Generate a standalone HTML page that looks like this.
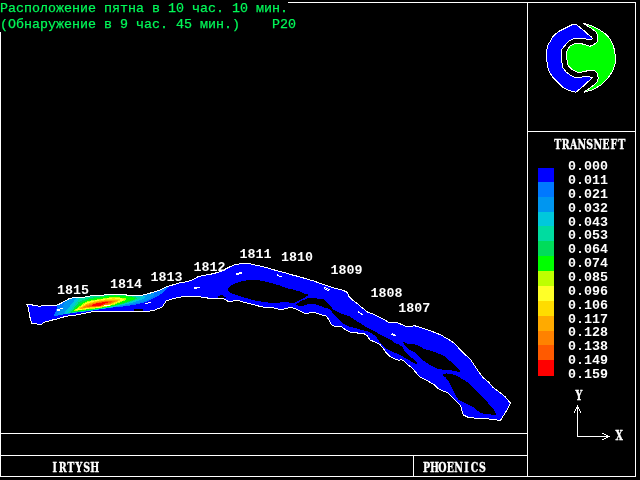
<!DOCTYPE html><html><head><meta charset="utf-8"><style>html,body{margin:0;padding:0;background:#000;width:640px;height:480px;overflow:hidden}svg{display:block}.g{font-family:"Liberation Mono","DejaVu Sans Mono",monospace;fill:#00f858;stroke:#00f858;stroke-width:0.25px;font-size:13.5px}.w{font-family:"Liberation Mono","DejaVu Sans Mono",monospace;fill:#fff;font-size:13.33px;font-weight:bold}</style></head><body>
<svg width="640" height="480" viewBox="0 0 640 480">
<rect width="640" height="480" fill="#000"/>
<rect x="288" y="2" width="348" height="1" fill="#ffffff"/>
<rect x="635" y="2" width="1" height="475" fill="#ffffff"/>
<rect x="527" y="2" width="1" height="475" fill="#ffffff"/>
<rect x="527" y="131" width="109" height="1" fill="#ffffff"/>
<rect x="0" y="32" width="1" height="445" fill="#ffffff"/>
<rect x="0" y="476" width="636" height="1" fill="#ffffff"/>
<rect x="0" y="433" width="528" height="1" fill="#ffffff"/>
<rect x="0" y="455" width="528" height="1" fill="#ffffff"/>
<rect x="413" y="455" width="1" height="22" fill="#ffffff"/>
<defs><clipPath id="rc"><polygon points="25.6,304.4 32.5,305.0 38.8,306.2 45.0,305.6 51.0,306.0 57.5,305.0 62.5,302.5 68.8,298.8 73.8,297.5 82.5,297.5 90.0,296.0 97.5,295.6 110.0,294.4 121.0,294.4 126.0,294.5 127.0,295.4 142.0,295.4 147.5,293.8 152.5,292.5 160.0,290.0 166.0,287.0 172.5,285.0 178.8,283.0 185.0,282.0 191.0,280.6 197.5,277.0 202.5,275.6 210.0,274.4 217.5,272.5 222.5,270.6 227.5,268.0 232.5,265.6 236.0,264.4 242.5,263.4 248.8,263.4 255.0,265.0 261.0,266.2 267.5,267.8 273.8,269.8 280.0,271.6 286.0,273.0 292.5,275.0 298.8,276.6 306.2,278.8 312.5,280.6 318.8,282.8 325.0,285.0 331.2,287.2 337.5,288.8 343.8,290.6 347.5,292.5 348.8,296.2 352.5,300.0 357.5,303.8 362.5,308.0 367.5,312.0 373.8,314.4 380.0,317.5 386.0,320.6 388.8,322.5 396.0,322.0 400.0,323.8 405.0,326.0 410.0,327.0 414.0,325.6 419.0,327.0 425.0,329.0 431.0,331.0 436.0,333.0 441.0,335.0 449.4,340.0 455.0,343.8 460.6,350.3 464.4,354.0 470.0,358.8 473.8,364.4 477.5,370.0 483.0,377.5 488.8,382.2 492.5,386.9 500.0,392.5 505.6,397.2 510.3,403.0 507.5,409.4 503.8,415.0 500.0,421.0 496.2,419.7 486.9,418.8 477.5,418.4 468.0,417.2 463.4,415.0 461.6,409.4 460.6,405.6 455.0,400.0 451.2,396.2 447.5,392.5 443.4,391.2 438.8,389.0 434.0,384.7 429.4,381.9 424.7,379.5 420.0,377.2 413.8,370.0 411.0,367.2 407.2,364.4 404.4,361.0 401.6,359.7 398.8,360.2 394.0,358.8 389.4,356.0 385.6,352.2 382.8,347.5 380.0,344.7 375.0,342.0 370.0,340.0 367.5,336.0 363.8,333.5 360.0,333.5 355.0,332.5 350.0,332.0 345.0,329.4 341.0,326.5 336.0,327.0 331.2,324.4 329.4,320.6 327.5,317.8 324.7,315.0 322.0,315.0 319.0,314.0 314.4,312.6 308.8,313.0 306.0,314.0 299.4,310.8 294.7,308.4 290.0,307.5 283.8,309.0 280.0,309.4 273.8,308.0 267.5,307.5 262.5,307.0 256.0,305.4 251.0,304.0 245.0,302.5 240.0,301.0 235.0,300.6 230.0,301.5 227.5,301.0 224.0,298.8 217.5,298.0 207.5,298.0 197.5,296.5 186.0,296.0 178.8,297.5 172.5,298.8 166.0,301.0 162.5,306.9 155.0,310.0 148.8,311.2 142.5,311.9 133.8,311.9 115.0,311.0 102.5,311.9 95.0,311.0 88.8,312.5 82.5,313.8 76.0,315.0 70.0,315.6 63.8,316.9 57.5,318.8 52.5,320.0 45.0,322.0 40.0,325.0 33.8,323.0 31.9,323.8 30.0,317.5 28.8,311.0 27.5,305.0"/></clipPath></defs>
<g shape-rendering="crispEdges"><polygon points="25.6,304.4 32.5,305.0 38.8,306.2 45.0,305.6 51.0,306.0 57.5,305.0 62.5,302.5 68.8,298.8 73.8,297.5 82.5,297.5 90.0,296.0 97.5,295.6 110.0,294.4 121.0,294.4 126.0,294.5 127.0,295.4 142.0,295.4 147.5,293.8 152.5,292.5 160.0,290.0 166.0,287.0 172.5,285.0 178.8,283.0 185.0,282.0 191.0,280.6 197.5,277.0 202.5,275.6 210.0,274.4 217.5,272.5 222.5,270.6 227.5,268.0 232.5,265.6 236.0,264.4 242.5,263.4 248.8,263.4 255.0,265.0 261.0,266.2 267.5,267.8 273.8,269.8 280.0,271.6 286.0,273.0 292.5,275.0 298.8,276.6 306.2,278.8 312.5,280.6 318.8,282.8 325.0,285.0 331.2,287.2 337.5,288.8 343.8,290.6 347.5,292.5 348.8,296.2 352.5,300.0 357.5,303.8 362.5,308.0 367.5,312.0 373.8,314.4 380.0,317.5 386.0,320.6 388.8,322.5 396.0,322.0 400.0,323.8 405.0,326.0 410.0,327.0 414.0,325.6 419.0,327.0 425.0,329.0 431.0,331.0 436.0,333.0 441.0,335.0 449.4,340.0 455.0,343.8 460.6,350.3 464.4,354.0 470.0,358.8 473.8,364.4 477.5,370.0 483.0,377.5 488.8,382.2 492.5,386.9 500.0,392.5 505.6,397.2 510.3,403.0 507.5,409.4 503.8,415.0 500.0,421.0 496.2,419.7 486.9,418.8 477.5,418.4 468.0,417.2 463.4,415.0 461.6,409.4 460.6,405.6 455.0,400.0 451.2,396.2 447.5,392.5 443.4,391.2 438.8,389.0 434.0,384.7 429.4,381.9 424.7,379.5 420.0,377.2 413.8,370.0 411.0,367.2 407.2,364.4 404.4,361.0 401.6,359.7 398.8,360.2 394.0,358.8 389.4,356.0 385.6,352.2 382.8,347.5 380.0,344.7 375.0,342.0 370.0,340.0 367.5,336.0 363.8,333.5 360.0,333.5 355.0,332.5 350.0,332.0 345.0,329.4 341.0,326.5 336.0,327.0 331.2,324.4 329.4,320.6 327.5,317.8 324.7,315.0 322.0,315.0 319.0,314.0 314.4,312.6 308.8,313.0 306.0,314.0 299.4,310.8 294.7,308.4 290.0,307.5 283.8,309.0 280.0,309.4 273.8,308.0 267.5,307.5 262.5,307.0 256.0,305.4 251.0,304.0 245.0,302.5 240.0,301.0 235.0,300.6 230.0,301.5 227.5,301.0 224.0,298.8 217.5,298.0 207.5,298.0 197.5,296.5 186.0,296.0 178.8,297.5 172.5,298.8 166.0,301.0 162.5,306.9 155.0,310.0 148.8,311.2 142.5,311.9 133.8,311.9 115.0,311.0 102.5,311.9 95.0,311.0 88.8,312.5 82.5,313.8 76.0,315.0 70.0,315.6 63.8,316.9 57.5,318.8 52.5,320.0 45.0,322.0 40.0,325.0 33.8,323.0 31.9,323.8 30.0,317.5 28.8,311.0 27.5,305.0" fill="#0000ff"/>
<g clip-path="url(#rc)">
<path d="M54.00,316.00 C52.92,315.57 55.00,313.50 55.50,312.00 C56.00,310.50 56.50,308.50 57.00,307.00 C57.50,305.50 57.33,305.00 58.50,303.00 C59.67,301.00 62.08,297.17 64.00,295.00 C65.92,292.83 60.67,292.00 70.00,290.00 C79.33,288.00 105.00,284.50 120.00,283.00 C135.00,281.50 152.00,280.67 160.00,281.00 C168.00,281.33 167.25,283.27 168.00,285.00 C168.75,286.73 166.67,289.28 164.50,291.40 C162.33,293.52 158.52,295.81 155.00,297.70 C151.48,299.59 147.57,301.45 143.40,302.75 C139.23,304.05 133.90,304.82 130.00,305.50 C126.10,306.18 123.00,306.45 120.00,306.80 C117.00,307.15 115.33,307.17 112.00,307.60 C108.67,308.03 104.00,308.79 100.00,309.40 C96.00,310.01 92.17,310.68 88.00,311.25 C83.83,311.82 79.33,312.24 75.00,312.80 C70.67,313.36 65.50,314.07 62.00,314.60 C58.50,315.13 55.08,316.43 54.00,316.00Z" fill="#0078ff"/>
<path d="M58.00,315.00 C57.17,314.47 59.08,312.67 60.00,311.00 C60.92,309.33 62.33,306.92 63.50,305.00 C64.67,303.08 65.58,301.33 67.00,299.50 C68.42,297.67 63.17,295.92 72.00,294.00 C80.83,292.08 107.00,288.67 120.00,288.00 C133.00,287.33 144.33,288.83 150.00,290.00 C155.67,291.17 154.67,293.25 154.00,295.00 C153.33,296.75 149.17,299.07 146.00,300.50 C142.83,301.93 138.50,302.75 135.00,303.60 C131.50,304.45 128.83,304.95 125.00,305.60 C121.17,306.25 116.17,306.88 112.00,307.50 C107.83,308.12 104.00,308.68 100.00,309.30 C96.00,309.92 92.17,310.63 88.00,311.20 C83.83,311.77 78.83,312.20 75.00,312.70 C71.17,313.20 67.83,313.82 65.00,314.20 C62.17,314.58 58.83,315.53 58.00,315.00Z" fill="#0096f0"/>
<path d="M64.00,314.00 C63.92,313.25 66.08,310.83 67.50,309.00 C68.92,307.17 70.92,304.92 72.50,303.00 C74.08,301.08 75.42,299.00 77.00,297.50 C78.58,296.00 74.83,294.92 82.00,294.00 C89.17,293.08 109.50,291.58 120.00,292.00 C130.50,292.42 142.00,295.00 145.00,296.50 C148.00,298.00 140.50,299.87 138.00,301.00 C135.50,302.13 132.17,302.73 130.00,303.30 C127.83,303.87 128.00,303.72 125.00,304.40 C122.00,305.08 116.17,306.60 112.00,307.40 C107.83,308.20 104.00,308.60 100.00,309.20 C96.00,309.80 92.17,310.45 88.00,311.00 C83.83,311.55 78.33,312.08 75.00,312.50 C71.67,312.92 69.83,313.25 68.00,313.50 C66.17,313.75 64.08,314.75 64.00,314.00Z" fill="#00c8dc"/>
<path d="M68.00,313.00 C67.50,312.30 70.67,309.75 72.00,308.00 C73.33,306.25 74.67,304.17 76.00,302.50 C77.33,300.83 78.33,299.17 80.00,298.00 C81.67,296.83 82.67,296.08 86.00,295.50 C89.33,294.92 94.33,294.67 100.00,294.50 C105.67,294.33 113.33,294.00 120.00,294.50 C126.67,295.00 138.00,296.32 140.00,297.50 C142.00,298.68 134.50,300.58 132.00,301.60 C129.50,302.62 128.33,302.72 125.00,303.60 C121.67,304.48 116.17,306.02 112.00,306.90 C107.83,307.78 104.00,308.28 100.00,308.90 C96.00,309.52 92.17,310.05 88.00,310.60 C83.83,311.15 78.33,311.80 75.00,312.20 C71.67,312.60 68.50,313.70 68.00,313.00Z" fill="#00dca0"/>
<path d="M70.50,312.30 C70.00,311.65 72.67,309.63 74.00,308.00 C75.33,306.37 76.17,304.07 78.50,302.50 C80.83,300.93 84.42,299.60 88.00,298.60 C91.58,297.60 96.00,297.10 100.00,296.50 C104.00,295.90 107.83,295.17 112.00,295.00 C116.17,294.83 120.83,295.00 125.00,295.50 C129.17,296.00 136.50,296.88 137.00,298.00 C137.50,299.12 132.17,300.80 128.00,302.20 C123.83,303.60 116.67,305.33 112.00,306.40 C107.33,307.47 104.00,307.95 100.00,308.60 C96.00,309.25 91.83,309.75 88.00,310.30 C84.17,310.85 79.92,311.57 77.00,311.90 C74.08,312.23 71.00,312.95 70.50,312.30Z" fill="#00dc5a"/>
<path d="M72.50,311.40 C72.17,310.72 75.58,308.40 77.00,307.00 C78.42,305.60 79.17,304.20 81.00,303.00 C82.83,301.80 84.83,300.72 88.00,299.80 C91.17,298.88 96.00,298.20 100.00,297.50 C104.00,296.80 108.00,295.85 112.00,295.60 C116.00,295.35 120.17,295.52 124.00,296.00 C127.83,296.48 134.67,297.45 135.00,298.50 C135.33,299.55 129.83,301.05 126.00,302.30 C122.17,303.55 116.33,305.01 112.00,306.00 C107.67,306.99 104.00,307.58 100.00,308.25 C96.00,308.92 91.50,309.52 88.00,310.00 C84.50,310.48 81.58,310.87 79.00,311.10 C76.42,311.33 72.83,312.08 72.50,311.40Z" fill="#00ff00"/>
<path d="M74.00,310.70 C73.75,310.20 77.08,308.42 78.50,307.30 C79.92,306.18 80.92,305.05 82.50,304.00 C84.08,302.95 85.08,301.83 88.00,301.00 C90.92,300.17 96.00,299.67 100.00,299.00 C104.00,298.33 108.67,297.25 112.00,297.00 C115.33,296.75 117.50,297.17 120.00,297.50 C122.50,297.83 127.00,298.17 127.00,299.00 C127.00,299.83 122.50,301.45 120.00,302.50 C117.50,303.55 115.33,304.40 112.00,305.30 C108.67,306.20 104.00,307.23 100.00,307.90 C96.00,308.57 91.33,308.90 88.00,309.30 C84.67,309.70 82.33,310.07 80.00,310.30 C77.67,310.53 74.25,311.20 74.00,310.70Z" fill="#beff00"/>
<path d="M75.50,310.20 C75.17,309.85 78.58,308.40 80.00,307.40 C81.42,306.40 82.67,305.10 84.00,304.20 C85.33,303.30 85.33,302.75 88.00,302.00 C90.67,301.25 96.00,300.40 100.00,299.70 C104.00,299.00 109.00,298.08 112.00,297.80 C115.00,297.52 115.92,297.72 118.00,298.00 C120.08,298.28 124.50,298.78 124.50,299.50 C124.50,300.22 120.08,301.47 118.00,302.30 C115.92,303.13 115.00,303.63 112.00,304.50 C109.00,305.37 104.00,306.82 100.00,307.50 C96.00,308.18 91.00,308.27 88.00,308.60 C85.00,308.93 84.08,309.23 82.00,309.50 C79.92,309.77 75.83,310.55 75.50,310.20Z" fill="#ffff28"/>
<path d="M78.00,309.40 C77.00,309.15 80.33,307.67 82.00,306.60 C83.67,305.53 85.00,304.05 88.00,303.00 C91.00,301.95 96.00,301.05 100.00,300.30 C104.00,299.55 109.33,298.77 112.00,298.50 C114.67,298.23 114.50,298.45 116.00,298.70 C117.50,298.95 121.00,299.38 121.00,300.00 C121.00,300.62 117.50,301.72 116.00,302.40 C114.50,303.08 114.67,303.32 112.00,304.10 C109.33,304.88 104.00,306.43 100.00,307.10 C96.00,307.77 91.67,307.72 88.00,308.10 C84.33,308.48 79.00,309.65 78.00,309.40Z" fill="#ffdc00"/>
<path d="M80.00,308.80 C79.50,308.43 83.67,306.23 85.00,305.40 C86.33,304.57 85.50,304.53 88.00,303.80 C90.50,303.07 96.00,301.63 100.00,301.00 C104.00,300.37 109.00,300.07 112.00,300.00 C115.00,299.93 117.67,300.17 118.00,300.60 C118.33,301.03 115.00,302.12 114.00,302.60 C113.00,303.08 114.33,302.81 112.00,303.50 C109.67,304.19 104.00,306.07 100.00,306.75 C96.00,307.43 91.33,307.26 88.00,307.60 C84.67,307.94 80.50,309.17 80.00,308.80Z" fill="#ffaa00"/>
<path d="M82.50,308.00 C82.50,307.58 85.08,305.77 88.00,304.70 C90.92,303.63 96.33,302.28 100.00,301.60 C103.67,300.92 107.50,300.67 110.00,300.60 C112.50,300.53 115.00,300.67 115.00,301.20 C115.00,301.73 112.50,302.93 110.00,303.80 C107.50,304.67 103.67,305.83 100.00,306.40 C96.33,306.97 90.92,306.93 88.00,307.20 C85.08,307.47 82.50,308.42 82.50,308.00Z" fill="#ff8200"/>
<path d="M86.00,307.10 C86.00,306.82 87.67,306.02 90.00,305.20 C92.33,304.38 97.00,302.85 100.00,302.20 C103.00,301.55 106.00,301.38 108.00,301.30 C110.00,301.22 112.00,301.32 112.00,301.70 C112.00,302.08 110.00,302.87 108.00,303.60 C106.00,304.33 103.00,305.55 100.00,306.10 C97.00,306.65 92.33,306.73 90.00,306.90 C87.67,307.07 86.00,307.38 86.00,307.10Z" fill="#ff5a00"/>
<path d="M91.50,305.60 C91.67,305.18 94.58,303.97 96.00,303.50 C97.42,303.03 98.50,303.05 100.00,302.80 C101.50,302.55 103.58,302.10 105.00,302.00 C106.42,301.90 108.50,301.93 108.50,302.20 C108.50,302.47 106.42,303.00 105.00,303.60 C103.58,304.20 101.67,305.40 100.00,305.80 C98.33,306.20 96.42,306.03 95.00,306.00 C93.58,305.97 91.33,306.02 91.50,305.60Z" fill="#ff0000"/>
</g>
<polygon points="227.5,290.0 230.0,286.2 236.0,283.0 242.5,281.2 248.8,280.0 255.0,280.0 261.0,280.6 267.5,282.0 273.8,283.8 280.0,285.6 286.0,288.0 292.5,289.4 298.8,291.2 305.0,293.8 309.7,294.8 293.8,303.3 290.0,302.8 286.0,302.0 280.0,302.5 273.8,303.0 267.5,302.5 261.0,301.5 255.0,300.6 248.8,298.8 242.5,297.0 236.0,295.0 230.0,292.5" fill="#000"/>
<polygon points="295.6,304.7 301.0,301.0 308.8,298.0 318.0,298.6 323.8,299.5 327.5,302.8 331.2,306.6 333.0,309.4 336.9,311.7 342.5,314.0 348.8,316.0 355.0,320.0 361.0,323.8 367.5,328.0 373.8,331.0 380.0,334.4 385.6,337.2 391.2,340.0 395.0,343.0 398.6,344.5 402.3,347.0 403.8,349.6 406.0,352.5 409.6,356.2 413.2,359.0 416.9,362.7 417.6,364.2 416.2,364.2 413.2,362.7 409.6,360.5 406.0,358.4 402.3,356.2 398.6,354.3 395.0,352.9 389.4,350.3 384.7,347.5 380.0,342.8 376.0,336.0 371.0,333.0 367.5,331.0 361.0,330.0 355.0,328.0 347.5,326.0 342.5,323.0 338.8,318.8 335.0,316.0 332.0,312.2 331.2,309.8 327.5,308.4 322.8,307.0 318.0,305.0 313.4,303.8 308.8,303.8 301.2,306.6" fill="#000"/>
<polygon points="403.4,342.3 404.5,342.3 407.4,343.8 414.7,344.5 419.0,346.0 424.2,348.9 429.3,350.3 435.0,352.2 438.8,353.8 444.4,356.0 448.0,359.4 452.8,363.0 457.5,367.8 460.8,372.0 457.5,371.6 452.8,370.6 448.0,370.2 443.4,369.7 438.8,369.2 435.0,367.8 431.5,365.7 427.8,363.5 424.2,361.3 420.5,358.4 416.9,354.7 414.7,352.5 409.6,349.6 405.2,346.0 403.4,343.0" fill="#000"/>
<polygon points="442.5,374.8 446.2,373.4 452.8,374.4 457.5,376.2 462.2,379.0 466.9,381.9 471.5,385.6 476.2,390.3 480.0,394.0 487.0,401.9 494.4,410.3 496.2,414.0 496.2,415.0 485.0,414.0 479.4,412.2 473.8,407.5 466.2,403.8 458.8,400.0 455.0,394.4 451.0,385.6 449.0,381.9 446.2,378.1" fill="#000"/>
<polygon points="133.8,309.0 142.5,308.8 143.0,311.5 133.8,311.5" fill="#000"/>
<polygon points="217.5,296.0 222.0,295.0 226.0,297.5 217.5,297.8" fill="#000"/>
<polygon points="25.6,304.4 32.5,305.0 38.8,306.2 45.0,305.6 51.0,306.0 57.5,305.0 62.5,302.5 68.8,298.8 73.8,297.5 82.5,297.5 90.0,296.0 97.5,295.6 110.0,294.4 121.0,294.4 126.0,294.5 127.0,295.4 142.0,295.4 147.5,293.8 152.5,292.5 160.0,290.0 166.0,287.0 172.5,285.0 178.8,283.0 185.0,282.0 191.0,280.6 197.5,277.0 202.5,275.6 210.0,274.4 217.5,272.5 222.5,270.6 227.5,268.0 232.5,265.6 236.0,264.4 242.5,263.4 248.8,263.4 255.0,265.0 261.0,266.2 267.5,267.8 273.8,269.8 280.0,271.6 286.0,273.0 292.5,275.0 298.8,276.6 306.2,278.8 312.5,280.6 318.8,282.8 325.0,285.0 331.2,287.2 337.5,288.8 343.8,290.6 347.5,292.5 348.8,296.2 352.5,300.0 357.5,303.8 362.5,308.0 367.5,312.0 373.8,314.4 380.0,317.5 386.0,320.6 388.8,322.5 396.0,322.0 400.0,323.8 405.0,326.0 410.0,327.0 414.0,325.6 419.0,327.0 425.0,329.0 431.0,331.0 436.0,333.0 441.0,335.0 449.4,340.0 455.0,343.8 460.6,350.3 464.4,354.0 470.0,358.8 473.8,364.4 477.5,370.0 483.0,377.5 488.8,382.2 492.5,386.9 500.0,392.5 505.6,397.2 510.3,403.0 507.5,409.4 503.8,415.0 500.0,421.0 496.2,419.7 486.9,418.8 477.5,418.4 468.0,417.2 463.4,415.0 461.6,409.4 460.6,405.6 455.0,400.0 451.2,396.2 447.5,392.5 443.4,391.2 438.8,389.0 434.0,384.7 429.4,381.9 424.7,379.5 420.0,377.2 413.8,370.0 411.0,367.2 407.2,364.4 404.4,361.0 401.6,359.7 398.8,360.2 394.0,358.8 389.4,356.0 385.6,352.2 382.8,347.5 380.0,344.7 375.0,342.0 370.0,340.0 367.5,336.0 363.8,333.5 360.0,333.5 355.0,332.5 350.0,332.0 345.0,329.4 341.0,326.5 336.0,327.0 331.2,324.4 329.4,320.6 327.5,317.8 324.7,315.0 322.0,315.0 319.0,314.0 314.4,312.6 308.8,313.0 306.0,314.0 299.4,310.8 294.7,308.4 290.0,307.5 283.8,309.0 280.0,309.4 273.8,308.0 267.5,307.5 262.5,307.0 256.0,305.4 251.0,304.0 245.0,302.5 240.0,301.0 235.0,300.6 230.0,301.5 227.5,301.0 224.0,298.8 217.5,298.0 207.5,298.0 197.5,296.5 186.0,296.0 178.8,297.5 172.5,298.8 166.0,301.0 162.5,306.9 155.0,310.0 148.8,311.2 142.5,311.9 133.8,311.9 115.0,311.0 102.5,311.9 95.0,311.0 88.8,312.5 82.5,313.8 76.0,315.0 70.0,315.6 63.8,316.9 57.5,318.8 52.5,320.0 45.0,322.0 40.0,325.0 33.8,323.0 31.9,323.8 30.0,317.5 28.8,311.0 27.5,305.0" fill="none" stroke="#fff" stroke-width="1"/>
<path fill="#fff" d="M57,309h3v2h-3zM60,308h3v1h-3zM104,305h6v1h-6zM145,303h3v1h-3zM148,302h3v1h-3zM194,287h6v1h-6zM194,288h3v1h-3zM236,273h3v2h-3zM239,272h3v2h-3zM277,274h1v2h-1zM278,275h1v1h-1zM279,276h3v1h-3zM324,287h2v1h-2zM324,288h1v1h-1zM326,288h2v1h-2zM325,289h2v1h-2zM328,289h2v1h-2zM327,290h2v1h-2zM358,311h1v2h-1zM359,312h1v1h-1zM360,313h2v1h-2zM361,314h2v1h-2zM392,333h1v1h-1zM391,334h4v1h-4zM393,335h3v1h-3z"/>
</g>
<g shape-rendering="crispEdges"><polygon points="592.5,38.8 591.7,37.0 588.3,34.6 584.2,30.8 580.0,27.5 576.5,24.6 572.3,24.6 568.0,26.7 564.0,28.8 559.8,30.8 555.6,34.0 552.5,37.0 550.4,41.2 548.3,44.4 546.8,49.6 546.8,60.4 547.8,67.7 549.9,72.9 553.5,78.1 557.7,82.3 562.9,87.5 568.1,90.1 573.3,91.7 575.9,92.2 579.8,89.0 582.8,86.6 586.6,82.8 591.2,79.0 592.2,77.2 585.6,76.7 580.0,77.2 574.4,77.1 570.2,75.0 566.0,71.9 562.9,67.7 561.4,60.4 561.4,50.0 562.4,48.5 565.0,45.4 568.0,41.8 572.3,39.2 576.5,38.1 581.7,38.1 586.7,39.2 590.8,39.6" fill="#0000ff" stroke="#fff" stroke-width="1"/>
<polygon points="583.3,23.3 588.3,24.6 593.3,26.7 598.3,29.2 602.5,31.7 605.8,34.2 608.3,36.7 610.0,39.2 611.7,42.5 613.3,45.8 614.2,49.2 615.0,54.2 615.6,57.0 615.1,64.0 612.8,70.6 610.0,75.3 606.2,80.0 602.5,83.8 596.9,87.5 591.2,90.3 585.6,91.7 583.8,92.2 589.4,88.4 593.1,85.6 596.9,82.3 598.3,78.1 597.3,73.0 594.0,70.2 585.6,71.1 580.0,72.5 576.5,71.9 571.2,68.8 568.1,65.6 566.6,58.3 566.6,52.0 567.6,49.6 570.2,46.0 574.4,43.9 579.6,43.3 585.0,44.6 590.0,46.2 593.3,45.0 596.7,42.5 597.9,40.0 597.5,35.0 595.8,31.7 592.5,29.2 586.7,25.4" fill="#00ff00" stroke="#fff" stroke-width="1"/></g>
<rect x="538" y="168" width="16" height="14" fill="#0000ff"/>
<rect x="538" y="182" width="16" height="15" fill="#0078ff"/>
<rect x="538" y="197" width="16" height="15" fill="#0096f0"/>
<rect x="538" y="212" width="16" height="14" fill="#00c8dc"/>
<rect x="538" y="226" width="16" height="15" fill="#00dca0"/>
<rect x="538" y="241" width="16" height="15" fill="#00dc5a"/>
<rect x="538" y="256" width="16" height="15" fill="#00ff00"/>
<rect x="538" y="271" width="16" height="15" fill="#beff00"/>
<rect x="538" y="286" width="16" height="15" fill="#ffff28"/>
<rect x="538" y="301" width="16" height="15" fill="#ffdc00"/>
<rect x="538" y="316" width="16" height="15" fill="#ffaa00"/>
<rect x="538" y="331" width="16" height="14" fill="#ff8200"/>
<rect x="538" y="345" width="16" height="15" fill="#ff5a00"/>
<rect x="538" y="360" width="16" height="16" fill="#ff0000"/>
<g style="will-change:transform">
<text class="w" x="568" y="170.0" textLength="40" lengthAdjust="spacingAndGlyphs">0.000</text>
<text class="w" x="568" y="183.9" textLength="40" lengthAdjust="spacingAndGlyphs">0.011</text>
<text class="w" x="568" y="197.7" textLength="40" lengthAdjust="spacingAndGlyphs">0.021</text>
<text class="w" x="568" y="211.6" textLength="40" lengthAdjust="spacingAndGlyphs">0.032</text>
<text class="w" x="568" y="225.5" textLength="40" lengthAdjust="spacingAndGlyphs">0.043</text>
<text class="w" x="568" y="239.3" textLength="40" lengthAdjust="spacingAndGlyphs">0.053</text>
<text class="w" x="568" y="253.2" textLength="40" lengthAdjust="spacingAndGlyphs">0.064</text>
<text class="w" x="568" y="267.1" textLength="40" lengthAdjust="spacingAndGlyphs">0.074</text>
<text class="w" x="568" y="280.9" textLength="40" lengthAdjust="spacingAndGlyphs">0.085</text>
<text class="w" x="568" y="294.8" textLength="40" lengthAdjust="spacingAndGlyphs">0.096</text>
<text class="w" x="568" y="308.7" textLength="40" lengthAdjust="spacingAndGlyphs">0.106</text>
<text class="w" x="568" y="322.5" textLength="40" lengthAdjust="spacingAndGlyphs">0.117</text>
<text class="w" x="568" y="336.4" textLength="40" lengthAdjust="spacingAndGlyphs">0.128</text>
<text class="w" x="568" y="350.3" textLength="40" lengthAdjust="spacingAndGlyphs">0.138</text>
<text class="w" x="568" y="364.1" textLength="40" lengthAdjust="spacingAndGlyphs">0.149</text>
<text class="w" x="568" y="378.0" textLength="40" lengthAdjust="spacingAndGlyphs">0.159</text>
<text transform="scale(0.88,1)" x="633.86 642.95 652.05 661.14 670.23 679.32 688.41 697.50 706.59" y="149.000" text-anchor="middle" style='font-family:"DejaVu Serif Condensed","DejaVu Serif",serif;font-weight:bold;font-size:12px' fill="#fff" stroke="#fff" stroke-width="0.3">TRANSNEFT</text>
<g stroke="#fff" stroke-width="1" fill="none" shape-rendering="crispEdges"><path d="M577.5 406 V436.5 H609"/><path d="M574 413 L577.5 406 L581 413"/><path d="M602 433 L609 436.5 L602 440"/></g>
<text transform="scale(0.88,1)" x="657.95" y="400.000" text-anchor="middle" style='font-family:"DejaVu Serif Condensed","DejaVu Serif",serif;font-weight:bold;font-size:12px' fill="#fff" stroke="#fff" stroke-width="0.3">Y</text>
<text transform="scale(0.88,1)" x="703.75" y="440.000" text-anchor="middle" style='font-family:"DejaVu Serif Condensed","DejaVu Serif",serif;font-weight:bold;font-size:12px' fill="#fff" stroke="#fff" stroke-width="0.3">X</text>
<text transform="scale(0.88,1)" x="62.27 71.36 80.45 89.55 98.64 107.73" y="472.000" text-anchor="middle" style='font-family:"DejaVu Serif Condensed","DejaVu Serif",serif;font-weight:bold;font-size:12px' fill="#fff" stroke="#fff" stroke-width="0.3">IRTYSH</text>
<text transform="scale(0.88,1)" x="484.66 493.75 502.84 511.93 521.02 530.11 539.20 548.30" y="472.000" text-anchor="middle" style='font-family:"DejaVu Serif Condensed","DejaVu Serif",serif;font-weight:bold;font-size:12px' fill="#fff" stroke="#fff" stroke-width="0.3">PHOENICS</text>
<text class="w" x="57" y="294" textLength="32" lengthAdjust="spacingAndGlyphs">1815</text>
<text class="w" x="110" y="288" textLength="32" lengthAdjust="spacingAndGlyphs">1814</text>
<text class="w" x="150.5" y="281" textLength="32" lengthAdjust="spacingAndGlyphs">1813</text>
<text class="w" x="193.5" y="271" textLength="32" lengthAdjust="spacingAndGlyphs">1812</text>
<text class="w" x="239.5" y="258" textLength="32" lengthAdjust="spacingAndGlyphs">1811</text>
<text class="w" x="281" y="261" textLength="32" lengthAdjust="spacingAndGlyphs">1810</text>
<text class="w" x="330.5" y="274" textLength="32" lengthAdjust="spacingAndGlyphs">1809</text>
<text class="w" x="370.5" y="297" textLength="32" lengthAdjust="spacingAndGlyphs">1808</text>
<text class="w" x="398.25" y="312" textLength="32" lengthAdjust="spacingAndGlyphs">1807</text>
<text class="g" x="0" y="12" textLength="288" lengthAdjust="spacingAndGlyphs">Расположение пятна в 10 час. 10 мин.</text>
<text class="g" x="0" y="28" textLength="240" lengthAdjust="spacingAndGlyphs">(Обнаружение в 9 час. 45 мин.)</text>
<text class="g" x="272" y="28" textLength="24" lengthAdjust="spacingAndGlyphs">P20</text>
</g></svg></body></html>
